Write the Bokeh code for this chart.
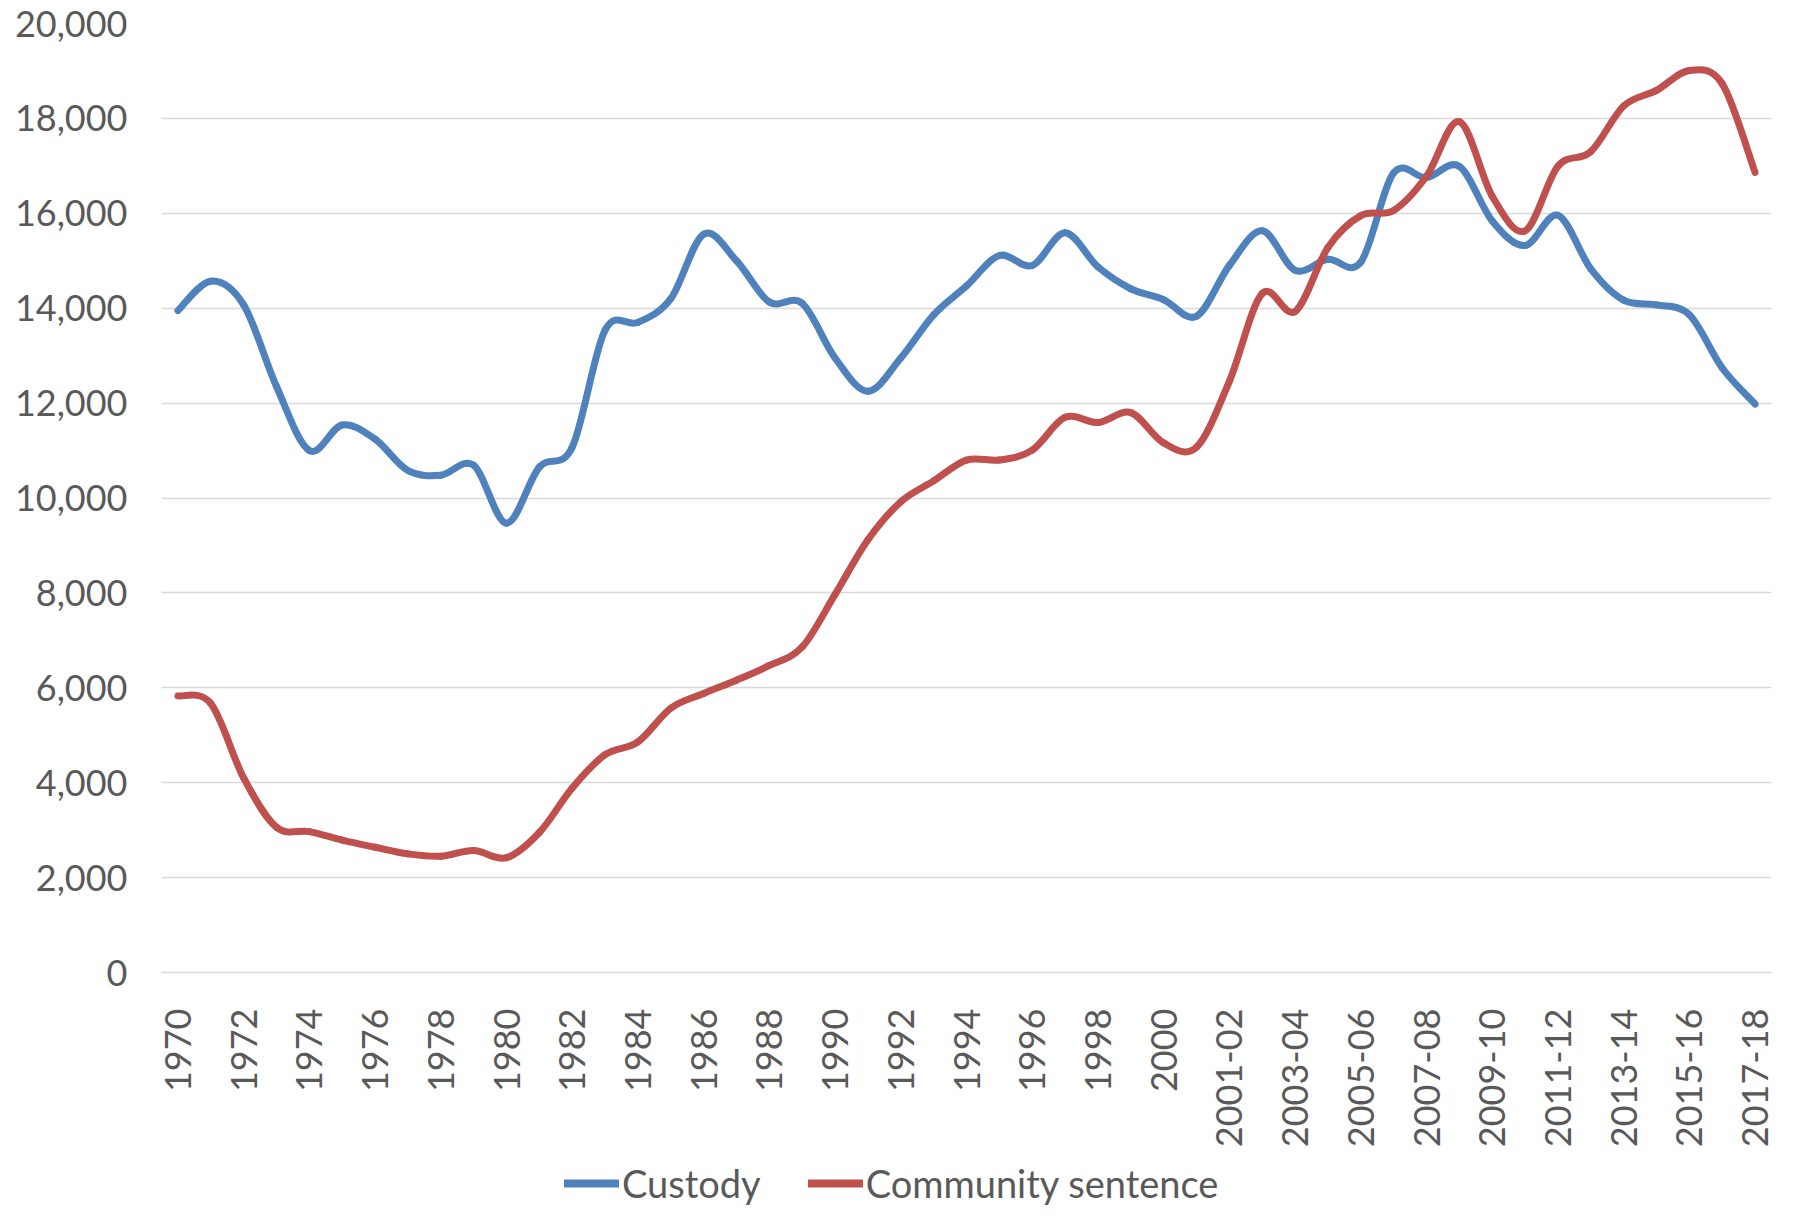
from bokeh.plotting import figure
from bokeh.layouts import column
from bokeh.models import (ColumnDataSource, Range1d, FixedTicker,
                          NumeralTickFormatter, Legend, LegendItem)
from bokeh.embed import file_html
from bokeh.resources import INLINE
import numpy as np
import math

years = [str(y) for y in range(1970, 2001)] + ["2000-01"] + \
        [f"{y}-{str(y + 1)[-2:]}" for y in range(2001, 2018)]

custody = [13950, 14570, 14070, 12350, 11000, 11540, 11240, 10580, 10480, 10690,
           9470, 10650, 11070, 13540, 13700, 14200, 15560, 15000, 14130, 14100,
           12950, 12250, 12950, 13860, 14470, 15110, 14900, 15590, 14870, 14410,
           14180, 13830, 14900, 15630, 14800, 15030, 14970, 16850, 16750, 16990,
           15840, 15320, 15960, 14830, 14170, 14070, 13860, 12740, 11980]

community = [5830, 5670, 4100, 3060, 2970, 2790, 2640, 2500, 2450, 2570,
             2420, 2950, 3890, 4590, 4860, 5570, 5880, 6160, 6470, 6860,
             7970, 9120, 9920, 10360, 10800, 10800, 11010, 11700, 11590, 11800,
             11160, 11070, 12460, 14310, 13930, 15280, 15950, 16060, 16780, 17930,
             16360, 15630, 16990, 17300, 18260, 18590, 19010, 18730, 16860]

series_names = ["Custody", "Community sentence"]
series_colors = ["#4F81BD", "#C0504D"]

y_ticks = list(range(0, 20001, 2000))
shown_labels = years[0:31:2] + years[32::2]

pos = np.arange(len(years), dtype=float)


def smooth_segments(xs, ys):
    """Bezier control points (Excel-style smoothed line) between data points."""
    xs = np.asarray(xs, float)
    ys = np.asarray(ys, float)
    xp = np.concatenate([[xs[0]], xs, [xs[-1]]])
    yp = np.concatenate([[ys[0]], ys, [ys[-1]]])
    n = len(xs)
    i = np.arange(n - 1)
    return dict(
        x0=xs[:-1], y0=ys[:-1], x1=xs[1:], y1=ys[1:],
        cx0=xs[:-1] + (xp[i + 2] - xp[i]) / 6.0,
        cy0=ys[:-1] + (yp[i + 2] - yp[i]) / 6.0,
        cx1=xs[1:] - (xp[i + 3] - xp[i + 1]) / 6.0,
        cy1=ys[1:] - (yp[i + 3] - yp[i + 1]) / 6.0,
    )


FONT = "Lato"
TXT = "#595959"
FS = "36px"

p = figure(width=1783, height=1150, x_range=Range1d(-0.5, len(years) - 0.5),
           y_range=Range1d(0, 20000), output_backend="svg", toolbar_location=None,
           min_border_left=161, min_border_right=12, min_border_top=23,
           min_border_bottom=175)
p.outline_line_color = None

for vals, col in zip([custody, community], series_colors):
    seg = ColumnDataSource(smooth_segments(pos, vals))
    p.bezier(x0="x0", y0="y0", x1="x1", y1="y1", cx0="cx0", cy0="cy0",
             cx1="cx1", cy1="cy1", source=seg, line_color=col, line_width=7,
             line_cap="round")

p.yaxis.ticker = FixedTicker(ticks=y_ticks)
p.yaxis.formatter = NumeralTickFormatter(format="0,0")
p.yaxis.axis_line_color = None
p.yaxis.major_tick_line_color = None
p.yaxis.minor_tick_line_color = None
p.yaxis.major_label_standoff = 28
p.yaxis.major_label_text_font = FONT
p.yaxis.major_label_text_font_size = FS
p.yaxis.major_label_text_color = TXT

p.xaxis.ticker = FixedTicker(ticks=[years.index(s) for s in shown_labels])
p.xaxis.major_label_overrides = {years.index(s): s for s in shown_labels}
p.xaxis.axis_line_color = "#D9D9D9"
p.xaxis.axis_line_width = 1.3
p.xaxis.major_tick_line_color = None
p.xaxis.minor_tick_line_color = None
p.xaxis.major_label_orientation = math.pi / 2
p.xaxis.major_label_standoff = 30
p.xaxis.major_label_text_font = FONT
p.xaxis.major_label_text_font_size = FS
p.xaxis.major_label_text_color = TXT

p.xgrid.grid_line_color = None
p.ygrid.grid_line_color = "#D9D9D9"
p.ygrid.grid_line_width = 1.3

# legend strip below the chart (series drawn outside its visible range so only the legend shows)
lg = figure(width=1783, height=59, x_range=Range1d(-0.5, len(years) - 0.5),
            y_range=Range1d(-2, -1), output_backend="svg", toolbar_location=None,
            min_border=0, x_axis_location=None, y_axis_location=None)
lg.grid.visible = False
lg.outline_line_color = None
items = []
for name, vals, col in zip(series_names, [custody, community], series_colors):
    rr = lg.line(x=pos, y=vals, line_color=col, line_width=8, line_cap="round")
    items.append(LegendItem(label=name, renderers=[rr]))

legend = Legend(items=items, orientation="horizontal", location=(403, 3),
                padding=0, margin=0, spacing=47, label_standoff=3,
                glyph_width=55, glyph_height=30, label_height=30,
                label_text_font=FONT, label_text_font_size="38px",
                label_text_color=TXT, border_line_color=None,
                background_fill_alpha=0)
lg.add_layout(legend, "center")

layout = column(p, lg, spacing=0)
open("out.html", "w").write(file_html(layout, INLINE))
